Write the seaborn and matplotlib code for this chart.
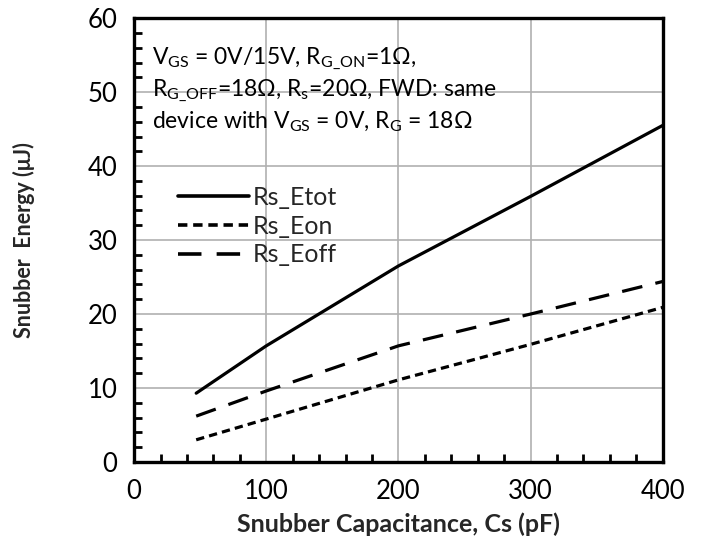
import matplotlib
matplotlib.use("Agg")
import matplotlib.pyplot as plt
from matplotlib.ticker import MultipleLocator
import pandas as pd
import seaborn as sns

# Snubber capacitance (pF) and energies (uJ)
cs_pf = [47, 100, 200, 300, 400]
rs_etot = [9.3, 15.7, 26.5, 35.9, 45.5]
rs_eon = [3.0, 5.8, 11.1, 15.9, 20.9]
rs_eoff = [6.2, 9.6, 15.7, 20.0, 24.4]
series_names = ["Rs_Etot", "Rs_Eon", "Rs_Eoff"]

sns.set_theme(style="white")
plt.rcParams["font.family"] = ["Lato", "DejaVu Sans"]
plt.rcParams["mathtext.fontset"] = "custom"
plt.rcParams["mathtext.rm"] = "Lato"
plt.rcParams["mathtext.it"] = "Lato"

df = pd.DataFrame({
    "Cs": cs_pf * 3,
    "E": rs_etot + rs_eon + rs_eoff,
    "series": [series_names[0]] * 5 + [series_names[1]] * 5 + [series_names[2]] * 5,
})

fig = plt.figure(figsize=(7.02, 5.5), dpi=100)
ax = fig.add_axes([0.191, 0.16, 0.753, 0.807])

lw = 2.3
sns.lineplot(
    data=df, x="Cs", y="E", style="series", style_order=series_names,
    dashes={"Rs_Etot": "", "Rs_Eon": (2.6, 1.6), "Rs_Eoff": (6.5, 4.2)},
    color="black", linewidth=lw, ax=ax, legend=True,
)

ax.set_xlim(0, 400)
ax.set_ylim(0, 60)
ax.xaxis.set_major_locator(MultipleLocator(100))
ax.xaxis.set_minor_locator(MultipleLocator(20))
ax.yaxis.set_major_locator(MultipleLocator(10))
ax.yaxis.set_minor_locator(MultipleLocator(2))

for sp in ax.spines.values():
    sp.set_visible(True)
    sp.set_color("black")
    sp.set_linewidth(2.4)

ax.tick_params(axis="both", which="major", direction="inout", length=12, width=2.2,
               labelsize=18.5, colors="black", pad=6)
ax.tick_params(axis="both", which="minor", direction="in", length=6, width=2.0,
               colors="black", bottom=True, left=True)
ax.tick_params(axis="x", which="both", top=False)
ax.tick_params(axis="y", which="both", right=False)
ax.grid(True, which="major", color="#b0b0b0", linewidth=1.2)
ax.set_axisbelow(True)

ax.set_xlabel("Snubber Capacitance, Cs (pF)", fontsize=18, fontweight="bold", labelpad=6)
ax.set_ylabel("Snubber  Energy (\u03bcJ)", fontsize=15.5, fontweight="bold", labelpad=38)

leg = ax.legend(loc="upper left", bbox_to_anchor=(0.083, 0.622), frameon=False,
                fontsize=18, handlelength=2.85, handletextpad=0.15,
                labelspacing=0.23, borderaxespad=0, borderpad=0)
for h in leg.get_lines():
    h.set_linewidth(2.6)

note = ("$\\mathregular{V_{GS}}$ = 0V/15V, $\\mathregular{R_{G\\_ON}}$=1\u03a9,\n"
        "$\\mathregular{R_{G\\_OFF}}$=18\u03a9, $\\mathregular{R_{s}}$=20\u03a9, FWD: same\n"
        "device with $\\mathregular{V_{GS}}$ = 0V, $\\mathregular{R_{G}}$ = 18\u03a9")
ax.text(0.034, 0.94, note, transform=ax.transAxes, fontsize=16.5, va="top", ha="left",
        linespacing=1.3, color="black")

fig.savefig("out.png", dpi=100)
